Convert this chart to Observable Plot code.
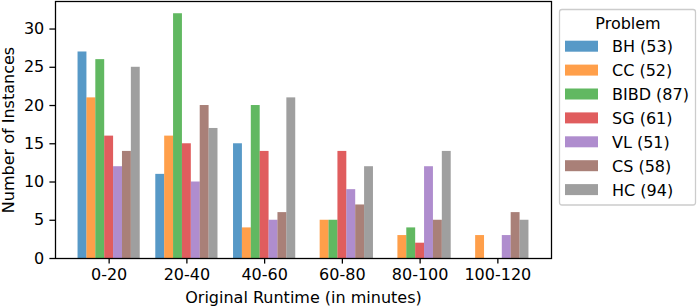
<!DOCTYPE html>
<html>
<head>
<meta charset="utf-8">
<script src="https://cdn.jsdelivr.net/npm/d3@7"></script>
<script src="https://cdn.jsdelivr.net/npm/@observablehq/plot@0.6"></script>
<style>
  html, body { margin: 0; padding: 0; background: #fff; }
  #chart { width: 698px; height: 308px; }
</style>
</head>
<body>
<div id="chart"></div>
<script>
// Categories (x groups)
const categories = ["0-20", "20-40", "40-60", "60-80", "80-100", "100-120"];
// Series names
const problems = ["BH", "CC", "BIBD", "SG", "VL", "CS", "HC"];
// Series values (instances per runtime bucket)
const BH   = [27, 11, 15, 0, 0, 0];
const CC   = [21, 16, 4, 5, 3, 3];
const BIBD = [26, 32, 20, 5, 4, 0];
const SG   = [16, 15, 14, 14, 2, 0];
const VL   = [12, 10, 5, 9, 12, 3];
const CS   = [14, 20, 6, 7, 5, 6];
const HC   = [25, 17, 21, 12, 14, 5];
// Y tick values
const yTicks = [0, 5, 10, 15, 20, 25, 30];
// Colours (matplotlib tab10)
const colors = ["#1f77b4", "#ff7f0e", "#2ca02c", "#d62728", "#9467bd", "#8c564b", "#7f7f7f"];

const series = [BH, CC, BIBD, SG, VL, CS, HC];
const groupWidth = 0.8;
const barW = groupWidth / problems.length;

const rows = [];
problems.forEach((p, j) => {
  series[j].forEach((v, g) => {
    if (v > 0) {
      const x1 = g - groupWidth / 2 + j * barW;
      rows.push({problem: p, group: g, value: v, x1, x2: x1 + barW});
    }
  });
});

const W = 698, H = 308;
const chart = Plot.plot({
  width: W,
  height: H,
  marginLeft: 55,
  marginRight: 147,
  marginTop: 1,
  marginBottom: 50,
  style: {fontFamily: "DejaVu Sans", fontSize: "16px", color: "#000", background: "#fff"},
  x: {domain: [-0.69, categories.length - 1 + 0.69]},
  y: {domain: [0, 33.6]},
  color: {domain: problems, range: colors},
  marks: [
    Plot.rectY(rows, {x1: "x1", x2: "x2", y: "value", fill: "problem", fillOpacity: 0.75, inset: 0}),
    Plot.axisX({
      ticks: d3.range(categories.length),
      tickFormat: i => categories[i],
      tickSize: 5.6, tickPadding: 4.5,
      label: "Original Runtime (in minutes)",
      labelAnchor: "center",
      labelArrow: "none",
      labelOffset: 44,
      strokeWidth: 1.28
    }),
    Plot.axisY({
      ticks: yTicks,
      tickSize: 5.6, tickPadding: 5.6,
      label: "Number of Instances",
      labelAnchor: "center",
      labelArrow: "none",
      labelOffset: 53,
      strokeWidth: 1.28
    }),
    Plot.frame({stroke: "#000", strokeWidth: 1.28})
  ]
});
document.getElementById("chart").appendChild(chart);

// Legend
const svg = d3.select(chart);
const lg = svg.append("g").attr("font-family", "DejaVu Sans").attr("font-size", 16).attr("text-anchor", "start");
lg.append("rect")
  .attr("x", 559.5).attr("y", 9.5).attr("width", 136).attr("height", 195.5)
  .attr("rx", 2.5).attr("fill", "#fff").attr("fill-opacity", 0.8)
  .attr("stroke", "#cccccc").attr("stroke-width", 1.28);
lg.append("text")
  .attr("x", 628).attr("y", 23.5).attr("text-anchor", "middle")
  .attr("dominant-baseline", "central").attr("fill", "#000").text("Problem");
problems.forEach((p, i) => {
  const cy = 46.2 + i * 23.9;
  lg.append("rect")
    .attr("x", 565).attr("y", cy - 5.5).attr("width", 33).attr("height", 11)
    .attr("fill", colors[i]).attr("fill-opacity", 0.75);
  lg.append("text")
    .attr("x", 612).attr("y", cy + 0.5).attr("dominant-baseline", "central")
    .attr("text-anchor", "start")
    .attr("fill", "#000").text(`${p} (${d3.sum(series[i])})`);
});
</script>
</body>
</html>
